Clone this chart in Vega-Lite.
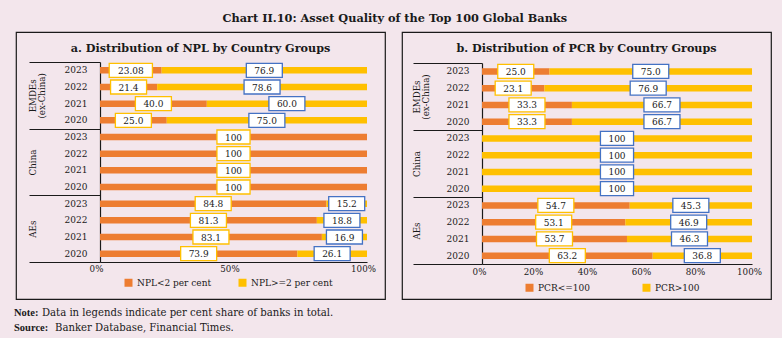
{
  "$schema": "https://vega.github.io/schema/vega-lite/v6.json",
  "background": "#F3E6EC",
  "padding": {"left": 14, "top": 13, "right": 15, "bottom": 4},
  "config": {
    "font": "DejaVu Serif",
    "view": {"stroke": "#1a1a1a", "strokeWidth": 1.2},
    "axis": {"labelFont": "DejaVu Serif", "labelColor": "#1a1a1a", "domainColor": "#1a1a1a", "tickColor": "#1a1a1a", "grid": false},
    "legend": {"labelFont": "DejaVu Serif", "labelColor": "#1a1a1a"},
    "text": {"font": "DejaVu Serif"},
    "title": {"color": "#1a1a1a"}
  },
  "datasets": {
    "npl": [
      {"group": "EMDEs", "cat": "EMDEs-2023", "series": "NPL<2 per cent", "order": 1, "value": 23.08, "label": "23.08"},
      {"group": "EMDEs", "cat": "EMDEs-2023", "series": "NPL>=2 per cent", "order": 2, "value": 76.9, "label": "76.9"},
      {"group": "EMDEs", "cat": "EMDEs-2022", "series": "NPL<2 per cent", "order": 1, "value": 21.4, "label": "21.4"},
      {"group": "EMDEs", "cat": "EMDEs-2022", "series": "NPL>=2 per cent", "order": 2, "value": 78.6, "label": "78.6"},
      {"group": "EMDEs", "cat": "EMDEs-2021", "series": "NPL<2 per cent", "order": 1, "value": 40.0, "label": "40.0"},
      {"group": "EMDEs", "cat": "EMDEs-2021", "series": "NPL>=2 per cent", "order": 2, "value": 60.0, "label": "60.0"},
      {"group": "EMDEs", "cat": "EMDEs-2020", "series": "NPL<2 per cent", "order": 1, "value": 25.0, "label": "25.0"},
      {"group": "EMDEs", "cat": "EMDEs-2020", "series": "NPL>=2 per cent", "order": 2, "value": 75.0, "label": "75.0"},
      {"group": "China", "cat": "China-2023", "series": "NPL<2 per cent", "order": 1, "value": 100, "label": "100"},
      {"group": "China", "cat": "China-2022", "series": "NPL<2 per cent", "order": 1, "value": 100, "label": "100"},
      {"group": "China", "cat": "China-2021", "series": "NPL<2 per cent", "order": 1, "value": 100, "label": "100"},
      {"group": "China", "cat": "China-2020", "series": "NPL<2 per cent", "order": 1, "value": 100, "label": "100"},
      {"group": "AEs", "cat": "AEs-2023", "series": "NPL<2 per cent", "order": 1, "value": 84.8, "label": "84.8"},
      {"group": "AEs", "cat": "AEs-2023", "series": "NPL>=2 per cent", "order": 2, "value": 15.2, "label": "15.2"},
      {"group": "AEs", "cat": "AEs-2022", "series": "NPL<2 per cent", "order": 1, "value": 81.3, "label": "81.3"},
      {"group": "AEs", "cat": "AEs-2022", "series": "NPL>=2 per cent", "order": 2, "value": 18.8, "label": "18.8"},
      {"group": "AEs", "cat": "AEs-2021", "series": "NPL<2 per cent", "order": 1, "value": 83.1, "label": "83.1"},
      {"group": "AEs", "cat": "AEs-2021", "series": "NPL>=2 per cent", "order": 2, "value": 16.9, "label": "16.9"},
      {"group": "AEs", "cat": "AEs-2020", "series": "NPL<2 per cent", "order": 1, "value": 73.9, "label": "73.9"},
      {"group": "AEs", "cat": "AEs-2020", "series": "NPL>=2 per cent", "order": 2, "value": 26.1, "label": "26.1"}
    ],
    "pcr": [
      {"group": "EMDEs", "cat": "EMDEs-2023", "series": "PCR<=100", "order": 1, "value": 25.0, "label": "25.0"},
      {"group": "EMDEs", "cat": "EMDEs-2023", "series": "PCR>100", "order": 2, "value": 75.0, "label": "75.0"},
      {"group": "EMDEs", "cat": "EMDEs-2022", "series": "PCR<=100", "order": 1, "value": 23.1, "label": "23.1"},
      {"group": "EMDEs", "cat": "EMDEs-2022", "series": "PCR>100", "order": 2, "value": 76.9, "label": "76.9"},
      {"group": "EMDEs", "cat": "EMDEs-2021", "series": "PCR<=100", "order": 1, "value": 33.3, "label": "33.3"},
      {"group": "EMDEs", "cat": "EMDEs-2021", "series": "PCR>100", "order": 2, "value": 66.7, "label": "66.7"},
      {"group": "EMDEs", "cat": "EMDEs-2020", "series": "PCR<=100", "order": 1, "value": 33.3, "label": "33.3"},
      {"group": "EMDEs", "cat": "EMDEs-2020", "series": "PCR>100", "order": 2, "value": 66.7, "label": "66.7"},
      {"group": "China", "cat": "China-2023", "series": "PCR>100", "order": 2, "value": 100, "label": "100"},
      {"group": "China", "cat": "China-2022", "series": "PCR>100", "order": 2, "value": 100, "label": "100"},
      {"group": "China", "cat": "China-2021", "series": "PCR>100", "order": 2, "value": 100, "label": "100"},
      {"group": "China", "cat": "China-2020", "series": "PCR>100", "order": 2, "value": 100, "label": "100"},
      {"group": "AEs", "cat": "AEs-2023", "series": "PCR<=100", "order": 1, "value": 54.7, "label": "54.7"},
      {"group": "AEs", "cat": "AEs-2023", "series": "PCR>100", "order": 2, "value": 45.3, "label": "45.3"},
      {"group": "AEs", "cat": "AEs-2022", "series": "PCR<=100", "order": 1, "value": 53.1, "label": "53.1"},
      {"group": "AEs", "cat": "AEs-2022", "series": "PCR>100", "order": 2, "value": 46.9, "label": "46.9"},
      {"group": "AEs", "cat": "AEs-2021", "series": "PCR<=100", "order": 1, "value": 53.7, "label": "53.7"},
      {"group": "AEs", "cat": "AEs-2021", "series": "PCR>100", "order": 2, "value": 46.3, "label": "46.3"},
      {"group": "AEs", "cat": "AEs-2020", "series": "PCR<=100", "order": 1, "value": 63.2, "label": "63.2"},
      {"group": "AEs", "cat": "AEs-2020", "series": "PCR>100", "order": 2, "value": 36.8, "label": "36.8"}
    ]
  },
  "title": {
    "text": "Chart II.10: Asset Quality of the Top 100 Global Banks",
    "fontSize": 11.3, "fontWeight": "bold", "font": "DejaVu Serif",
    "anchor": "middle", "frame": "bounds", "offset": 7, "dx": 2
  },
  "vconcat": [
    {
      "title": {"text": "Banker Database, Financial Times.", "orient": "bottom", "anchor": "start", "frame": "group", "font": "DejaVu Serif", "fontSize": 10.1, "fontWeight": "normal", "offset": -10.3, "dx": 39},
      "vconcat": [
        {
          "title": {"text": "Source:", "orient": "bottom", "anchor": "start", "frame": "group", "font": "Liberation Serif", "fontSize": 10.5, "fontWeight": "bold", "offset": 4.5, "dx": -2},
          "vconcat": [
            {
              "title": {"text": "Data in legends indicate per cent share of banks in total.", "orient": "bottom", "anchor": "start", "frame": "group", "font": "DejaVu Serif", "fontSize": 10.1, "fontWeight": "normal", "offset": -10.3, "dx": 26},
              "vconcat": [
                {
                  "title": {"text": "Note:", "orient": "bottom", "anchor": "start", "frame": "group", "font": "Liberation Serif", "fontSize": 10.5, "fontWeight": "bold", "offset": 8, "dx": -2},
                  "spacing": 15,
                  "resolve": {"scale": {"color": "independent"}, "legend": {"color": "independent"}},
                  "hconcat": [
                    {
                      "width": 369, "height": 267,
                      "data": {"name": "npl"},
                      "title": {"text": "a. Distribution of NPL by Country Groups", "fontSize": 11.2, "fontWeight": "bold", "font": "DejaVu Serif", "anchor": "middle", "frame": "group", "offset": -22},
                      "layer": [
                        {
                          "layer": [
                            {
                              "mark": {"type": "bar", "height": 6.5},
                              "encoding": {
                                "y": {"field": "cat", "type": "nominal", "title": null,
                                  "scale": {"domain": ["EMDEs-2023","EMDEs-2022","EMDEs-2021","EMDEs-2020","China-2023","China-2022","China-2021","China-2020","AEs-2023","AEs-2022","AEs-2021","AEs-2020"], "range": [30, 230], "paddingInner": 0, "paddingOuter": 0},
                                  "axis": {"orient": "left", "offset": -84, "ticks": false, "domain": true, "domainWidth": 1.2, "labelPadding": 13, "labelFontSize": 9, "labelExpr": "split(datum.value, '-')[1]"}},
                                "x": {"field": "value", "type": "quantitative", "stack": "normalize", "title": null,
                                  "scale": {"domain": [0, 1], "range": [84, 351], "nice": false},
                                  "axis": {"orient": "bottom", "offset": -37, "values": [0, 0.5, 1], "format": ".0%", "ticks": false, "domainWidth": 1.2, "labelPadding": 2, "labelFontSize": 8.7, "labelOffset": -4, "labelFlush": false}},
                                "color": {"field": "series", "type": "nominal",
                                  "scale": {"domain": ["NPL<2 per cent", "NPL>=2 per cent"], "range": ["#ED7D31", "#FFC000"]},
                                  "legend": {"orient": "none", "legendX": 108, "legendY": 246, "direction": "horizontal", "title": null, "symbolType": "square", "symbolSize": 64, "symbolStrokeWidth": 0, "labelFontSize": 9, "labelOffset": 4, "columnPadding": 26, "padding": 0}},
                                "order": {"field": "order", "type": "quantitative"}
                              }
                            },
                            {
                              "transform": [
                                {"stack": "value", "groupby": ["cat"], "sort": [{"field": "order"}], "offset": "normalize", "as": ["v0", "v1"]},
                                {"calculate": "(datum.v0 + datum.v1) / 2", "as": "mid"}
                              ],
                              "mark": {"type": "point", "filled": true, "fill": "white", "opacity": 1, "strokeWidth": 1.3, "size": 1296},
                              "encoding": {
                                "y": {"field": "cat", "type": "nominal", "title": null},
                                "x": {"field": "mid", "type": "quantitative", "title": null},
                                "shape": {"condition": [
                                  {"test": "length(datum.label) <= 3", "value": "M-0.92,-0.39H0.92V0.39H-0.92Z"},
                                  {"test": "length(datum.label) >= 5", "value": "M-1.2,-0.39H1.2V0.39H-1.2Z"}
                                ], "value": "M-1,-0.39H1V0.39H-1Z"},
                                "stroke": {"condition": {"test": "datum.order == 1", "value": "#FFC000"}, "value": "#4472C4"}
                              }
                            },
                            {
                              "transform": [
                                {"stack": "value", "groupby": ["cat"], "sort": [{"field": "order"}], "offset": "normalize", "as": ["v0", "v1"]},
                                {"calculate": "(datum.v0 + datum.v1) / 2", "as": "mid"}
                              ],
                              "mark": {"type": "text", "fontSize": 9, "color": "#1a1a1a", "baseline": "middle", "align": "center", "dy": 0.5},
                              "encoding": {
                                "y": {"field": "cat", "type": "nominal", "title": null},
                                "x": {"field": "mid", "type": "quantitative", "title": null},
                                "text": {"field": "label"}
                              }
                            }
                          ]
                        },
                        {
                          "mark": {"type": "text", "text": ""},
                          "encoding": {
                            "y": {"field": "group", "type": "nominal", "title": null,
                              "scale": {"domain": ["EMDEs", "China", "AEs"], "range": [30, 230], "paddingInner": 0, "paddingOuter": 0},
                              "axis": {"orient": "left", "offset": -84, "domain": false, "ticks": true, "tickBand": "extent", "tickSize": 71, "tickWidth": 1.2, "labelAngle": 270, "labelAlign": "center", "labelBaseline": "top", "labelPadding": 1, "labelFontSize": 8.7, "labelLineHeight": 9.5, "labelOverlap": false, "labelExpr": "datum.value == 'EMDEs' ? ['EMDEs', '(ex-China)'] : datum.value"}}
                          }
                        }
                      ],
                      "resolve": {"scale": {"y": "independent"}, "axis": {"y": "independent"}}
                    },
                    {
                      "width": 369, "height": 267,
                      "data": {"name": "pcr"},
                      "title": {"text": "b. Distribution of PCR by Country Groups", "fontSize": 11.2, "fontWeight": "bold", "font": "DejaVu Serif", "anchor": "middle", "frame": "group", "offset": -22},
                      "layer": [
                        {
                          "layer": [
                            {
                              "mark": {"type": "bar", "height": 6.5},
                              "encoding": {
                                "y": {"field": "cat", "type": "nominal", "title": null,
                                  "scale": {"domain": ["EMDEs-2023","EMDEs-2022","EMDEs-2021","EMDEs-2020","China-2023","China-2022","China-2021","China-2020","AEs-2023","AEs-2022","AEs-2021","AEs-2020"], "range": [31, 232], "paddingInner": 0, "paddingOuter": 0},
                                  "axis": {"orient": "left", "offset": -80, "ticks": false, "domain": true, "domainWidth": 1.2, "labelPadding": 13, "labelFontSize": 9, "labelExpr": "split(datum.value, '-')[1]"}},
                                "x": {"field": "value", "type": "quantitative", "stack": "normalize", "title": null,
                                  "scale": {"domain": [0, 1], "range": [80, 350], "nice": false},
                                  "axis": {"orient": "bottom", "offset": -35, "values": [0, 0.2, 0.4, 0.6, 0.8, 1], "format": ".0%", "ticks": false, "domainWidth": 1.2, "labelPadding": 3, "labelFontSize": 8.7, "labelOffset": -3, "labelFlush": false}},
                                "color": {"field": "series", "type": "nominal",
                                  "scale": {"domain": ["PCR<=100", "PCR>100"], "range": ["#ED7D31", "#FFC000"]},
                                  "legend": {"orient": "none", "legendX": 123, "legendY": 251, "direction": "horizontal", "title": null, "symbolType": "square", "symbolSize": 64, "symbolStrokeWidth": 0, "labelFontSize": 9, "labelOffset": 4, "columnPadding": 52, "padding": 0}},
                                "order": {"field": "order", "type": "quantitative"}
                              }
                            },
                            {
                              "transform": [
                                {"stack": "value", "groupby": ["cat"], "sort": [{"field": "order"}], "offset": "normalize", "as": ["v0", "v1"]},
                                {"calculate": "(datum.v0 + datum.v1) / 2", "as": "mid"}
                              ],
                              "mark": {"type": "point", "filled": true, "fill": "white", "opacity": 1, "strokeWidth": 1.3, "size": 1296},
                              "encoding": {
                                "y": {"field": "cat", "type": "nominal", "title": null},
                                "x": {"field": "mid", "type": "quantitative", "title": null},
                                "shape": {"condition": [
                                  {"test": "length(datum.label) <= 3", "value": "M-0.92,-0.39H0.92V0.39H-0.92Z"},
                                  {"test": "length(datum.label) >= 5", "value": "M-1.2,-0.39H1.2V0.39H-1.2Z"}
                                ], "value": "M-1,-0.39H1V0.39H-1Z"},
                                "stroke": {"condition": {"test": "datum.order == 1", "value": "#FFC000"}, "value": "#4472C4"}
                              }
                            },
                            {
                              "transform": [
                                {"stack": "value", "groupby": ["cat"], "sort": [{"field": "order"}], "offset": "normalize", "as": ["v0", "v1"]},
                                {"calculate": "(datum.v0 + datum.v1) / 2", "as": "mid"}
                              ],
                              "mark": {"type": "text", "fontSize": 9, "color": "#1a1a1a", "baseline": "middle", "align": "center", "dy": 0.5},
                              "encoding": {
                                "y": {"field": "cat", "type": "nominal", "title": null},
                                "x": {"field": "mid", "type": "quantitative", "title": null},
                                "text": {"field": "label"}
                              }
                            }
                          ]
                        },
                        {
                          "mark": {"type": "text", "text": ""},
                          "encoding": {
                            "y": {"field": "group", "type": "nominal", "title": null,
                              "scale": {"domain": ["EMDEs", "China", "AEs"], "range": [31, 232], "paddingInner": 0, "paddingOuter": 0},
                              "axis": {"orient": "left", "offset": -80, "domain": false, "ticks": true, "tickBand": "extent", "tickSize": 69, "tickWidth": 1.2, "labelAngle": 270, "labelAlign": "center", "labelBaseline": "top", "labelPadding": 1, "labelFontSize": 8.7, "labelLineHeight": 9.5, "labelOverlap": false, "labelExpr": "datum.value == 'EMDEs' ? ['EMDEs', '(ex-China)'] : datum.value"}}
                          }
                        }
                      ],
                      "resolve": {"scale": {"y": "independent"}, "axis": {"y": "independent"}}
                    }
                  ]
                }
              ]
            }
          ]
        }
      ]
    }
  ]
}
